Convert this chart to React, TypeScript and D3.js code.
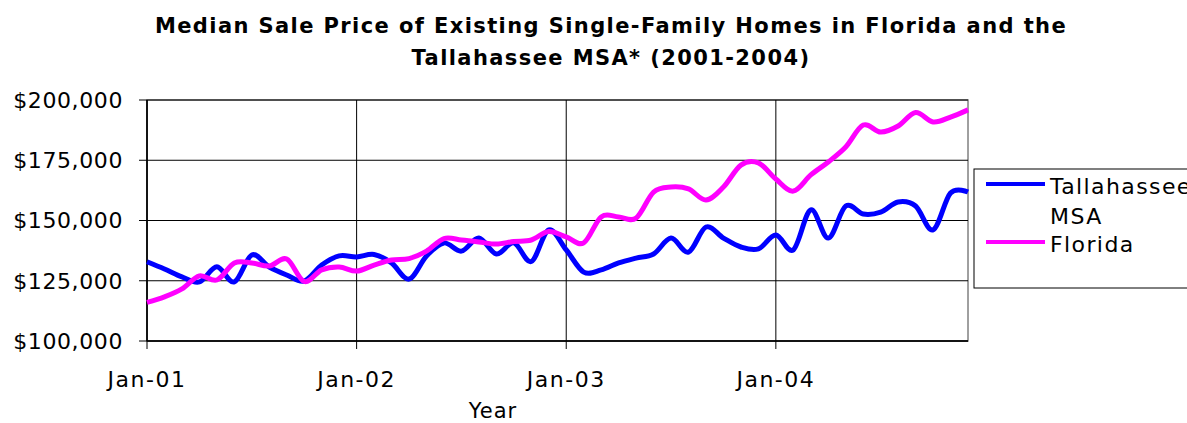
import React from "react";
import * as d3 from "d3";

const months: string[] = Array.from({ length: 48 }, (_, i) => `${2001 + Math.floor(i / 12)}-${(i % 12) + 1}`);
const tickIndex: number[] = [0, 12, 24, 36];
const tickLabels: string[] = ["Jan-01", "Jan-02", "Jan-03", "Jan-04"];
const yTicks: number[] = [100000, 125000, 150000, 175000, 200000];

const tallahassee: number[] = [
  132900, 129900, 126600, 124500, 130800, 124500, 135700, 130700, 127400, 124900, 131500, 135300,
  134900, 135900, 132400, 125700, 135300, 140700, 137300, 142700, 136100, 140700, 133000, 146100,
  137800, 128600, 129500, 132400, 134400, 136100, 142700, 136900, 147300, 142700, 139000, 138200,
  144000, 137800, 154400, 142700, 156000, 152700, 153500, 157700, 156000, 146100, 161400, 161800,
];
const florida: number[] = [
  116000, 118300, 121600, 127000, 125300, 132400, 132400, 131100, 134000, 124700, 129500, 130700,
  129000, 131500, 133600, 134200, 137300, 142500, 141900, 141100, 140200, 141300, 141900, 145400,
  143200, 140700, 151500, 151500, 151000, 161800, 163900, 163100, 158500, 163900, 173000, 173900,
  167200, 162200, 168900, 174300, 180500, 189600, 186700, 189200, 194800, 190900, 192900, 195900,
];

const seriesNames = ["Tallahassee", "MSA", "Florida"];
const FONT = "'DejaVu Sans', Verdana, sans-serif";

export default function App() {
  const W = 1187, H = 423;
  const left = 147, right = 968, top = 100, bottom = 341;
  const x = d3.scaleLinear().domain([0, months.length - 1]).range([left, right]);
  const y = d3.scaleLinear().domain([100000, 200000]).range([bottom, top]);
  const line = d3
    .line<number>()
    .x((_, i) => x(i))
    .y((d) => y(d))
    .curve(d3.curveCardinal.tension(0));
  const fmt = (v: number) => "$" + d3.format(",")(v);

  return (
    <svg width={W} height={H} style={{ position: "absolute", left: 0, top: 0 }} fontFamily={FONT}>
      <rect x={0} y={0} width={W} height={H} fill="#fff" />
      <text x={611} y={33} textAnchor="middle" fontWeight="bold" fontSize={21} letterSpacing={1.4}>
        Median Sale Price of Existing Single-Family Homes in Florida and the
      </text>
      <text x={611} y={65} textAnchor="middle" fontWeight="bold" fontSize={21} letterSpacing={1.4}>
        Tallahassee MSA* (2001-2004)
      </text>

      {/* plot border */}
      <rect x={left} y={top} width={right - left} height={bottom - top} fill="none" stroke="#808080" strokeWidth={1.5} />
      {/* horizontal gridlines */}
      {yTicks.map((t) => (
        <g key={t}>
          <line x1={left - 8} x2={right} y1={y(t)} y2={y(t)} stroke="#000" strokeWidth={1} />
          <text x={123} y={y(t)} dy="0.36em" textAnchor="end" fontSize={22} letterSpacing={0.6}>
            {fmt(t)}
          </text>
        </g>
      ))}
      {/* vertical gridlines */}
      {tickIndex.map((t, i) => (
        <g key={t}>
          <line x1={x(t)} x2={x(t)} y1={top} y2={bottom + 8} stroke="#000" strokeWidth={1} />
          <text x={x(t)} y={387} textAnchor="middle" fontSize={22} letterSpacing={1.5}>
            {tickLabels[i]}
          </text>
        </g>
      ))}
      <line x1={left} x2={left} y1={top} y2={bottom} stroke="#000" strokeWidth={1.5} />
      <line x1={left} x2={right} y1={bottom} y2={bottom} stroke="#000" strokeWidth={1.5} />
      <text x={493} y={418} textAnchor="middle" fontSize={21} letterSpacing={1}>
        Year
      </text>

      <path d={line(tallahassee) ?? ""} fill="none" stroke="#0000ff" strokeWidth={5} strokeLinejoin="round" />
      <path d={line(florida) ?? ""} fill="none" stroke="#ff00ff" strokeWidth={5} strokeLinejoin="round" />

      {/* legend */}
      <rect x={974} y={169} width={240} height={119} fill="#fff" stroke="#000" strokeWidth={1} />
      <line x1={986} x2={1045} y1={184} y2={184} stroke="#0000ff" strokeWidth={4} />
      <text x={1050} y={194} fontSize={22} letterSpacing={1.4}>{seriesNames[0]}</text>
      <text x={1050} y={224} fontSize={22} letterSpacing={1.4}>{seriesNames[1]}</text>
      <line x1={986} x2={1045} y1={242} y2={242} stroke="#ff00ff" strokeWidth={4} />
      <text x={1050} y={252} fontSize={22} letterSpacing={1.4}>{seriesNames[2]}</text>
    </svg>
  );
}
